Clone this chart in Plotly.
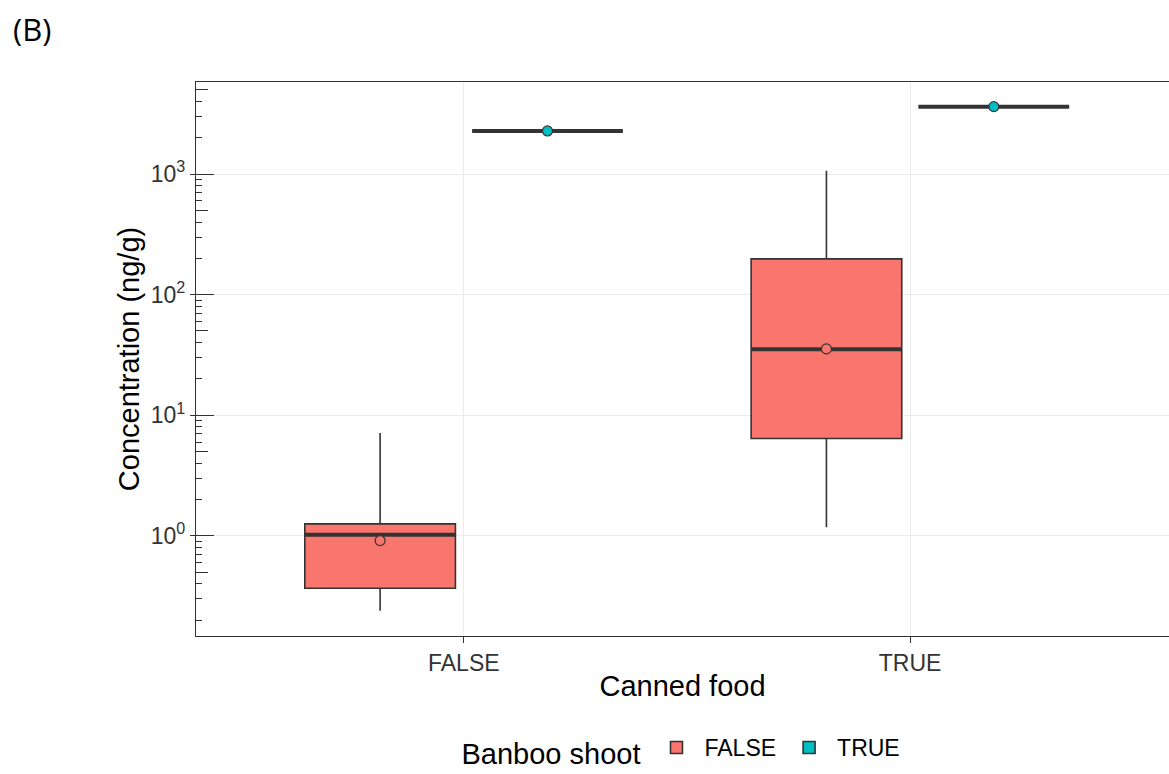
import plotly.graph_objects as go

# ---------------- data ----------------
canned_food = ["FALSE", "TRUE"]          # x categories
bamboo_shoot = ["FALSE", "TRUE"]         # fill groups

# box statistics per bamboo-shoot group, ordered by canned_food
stats = {
    "FALSE": dict(lower=[0.24, 1.18], q1=[0.368, 6.41], median=[1.02, 35.3],
                  q3=[1.258, 198.0], upper=[7.12, 1065.0], mean=[0.914, 35.5]),
    "TRUE": dict(lower=[2275.0, 3620.0], q1=[2275.0, 3620.0], median=[2275.0, 3620.0],
                 q3=[2275.0, 3620.0], upper=[2275.0, 3620.0], mean=[2275.0, 3620.0]),
}
fill_colors = {"FALSE": "#F8766D", "TRUE": "#00BFC4"}

y_decades = [0.1, 1, 10, 100, 1000]
y_tick_vals = [1, 10, 100, 1000]
y_tick_text = ["10<sup>0</sup>", "10<sup>1</sup>", "10<sup>2</sup>", "10<sup>3</sup>"]

# ---------------- styling ----------------
FONT = "Liberation Sans, Arial, sans-serif"
DARK = "#333333"
dodge = 0.1875
box_w = 0.3375

fig = go.Figure()
for gi, g in enumerate(bamboo_shoot):
    s = stats[g]
    off = (gi - 0.5) * 2 * dodge
    xs = [i + off for i in range(len(canned_food))]
    fig.add_trace(go.Box(
        x=xs, q1=s["q1"], median=s["median"], q3=s["q3"],
        lowerfence=s["lower"], upperfence=s["upper"],
        width=box_w, whiskerwidth=0, boxpoints=False,
        fillcolor=fill_colors[g], line=dict(color=DARK, width=1.6),
        name=g, legendgroup=g, showlegend=True, hoverinfo="skip",
    ))
    # thick median segment (ggplot fatten)
    mx, my = [], []
    for x0, m in zip(xs, s["median"]):
        mx += [x0 - box_w / 2, x0 + box_w / 2, None]
        my += [m, m, None]
    fig.add_trace(go.Scatter(x=mx, y=my, mode="lines",
                             line=dict(color=DARK, width=4),
                             showlegend=False, hoverinfo="skip"))
    # mean points
    fig.add_trace(go.Scatter(x=xs, y=s["mean"], mode="markers",
                             marker=dict(size=10, color=fill_colors[g],
                                         line=dict(color=DARK, width=1.2)),
                             showlegend=False, hoverinfo="skip"))

minor_short = [d * k for d in y_decades for k in (2, 3, 4, 6, 7, 8, 9)]
minor_mid = [d * 5 for d in y_decades]

fig.update_layout(
    width=1169, height=774,
    margin=dict(l=196, r=0, t=82, b=138, autoexpand=False),
    paper_bgcolor="white", plot_bgcolor="white",
    font=dict(family=FONT, color="#000000"),
    xaxis=dict(
        range=[-0.6, 1.58], tickmode="array", tickvals=[0, 1], ticktext=canned_food,
        ticks="outside", ticklen=6, tickwidth=1.3, tickcolor=DARK,
        showline=True, linecolor=DARK, linewidth=1.3, mirror=True,
        showgrid=True, gridcolor="#EBEBEB", gridwidth=1.3, zeroline=False,
        tickfont=dict(size=23, color="#333333", family=FONT),
        title=dict(text="Canned food", font=dict(size=29, family=FONT), standoff=0),
    ),
    yaxis=dict(
        type="log", range=[-0.83, 3.763],
        tickmode="array", tickvals=y_tick_vals, ticktext=y_tick_text,
        ticks="outside", ticklen=5, tickwidth=1.3, tickcolor=DARK,
        minor=dict(tickmode="array", tickvals=minor_short, ticks="inside",
                   ticklen=6, tickwidth=1.3, tickcolor=DARK, showgrid=False),
        showline=True, linecolor=DARK, linewidth=1.3, mirror=False,
        showgrid=True, gridcolor="#EBEBEB", gridwidth=1.3, zeroline=False,
        tickfont=dict(size=23, color="#333333", family=FONT),
        title=dict(text="Concentration (ng/g)", font=dict(size=29, family=FONT), standoff=2),
    ),
    yaxis2=dict(
        type="log", range=[-0.83, 3.763], overlaying="y", side="left", anchor="x",
        tickmode="array", tickvals=y_tick_vals,
        ticks="inside", ticklen=18, tickwidth=1.3, tickcolor=DARK,
        minor=dict(tickmode="array", tickvals=minor_mid, ticks="inside",
                   ticklen=12, tickwidth=1.3, tickcolor=DARK, showgrid=False),
        showticklabels=False, showgrid=False, zeroline=False, showline=False,
    ),
    legend=dict(
        orientation="h", x=0.5, xanchor="center",
        yref="container", y=1 - 750 / 774, yanchor="middle",
        itemwidth=46,
        title=dict(text="Banboo shoot", font=dict(size=29, family=FONT), side="left"),
        font=dict(size=23, family=FONT, color="#000000"),
    ),
    annotations=[dict(text="(B)", xref="paper", yref="paper", x=-196 / 973, y=1 + 53 / 554,
                      xanchor="left", yanchor="middle", showarrow=False,
                      xshift=11,
                      font=dict(size=31, family="Open Sans, Noto Sans, sans-serif", color="#000000"))],
)
# dummy reference so the overlay axis is drawn
fig.add_trace(go.Scatter(x=[], y=[], yaxis="y2", showlegend=False, hoverinfo="skip"))

fig.write_html("out.html")
